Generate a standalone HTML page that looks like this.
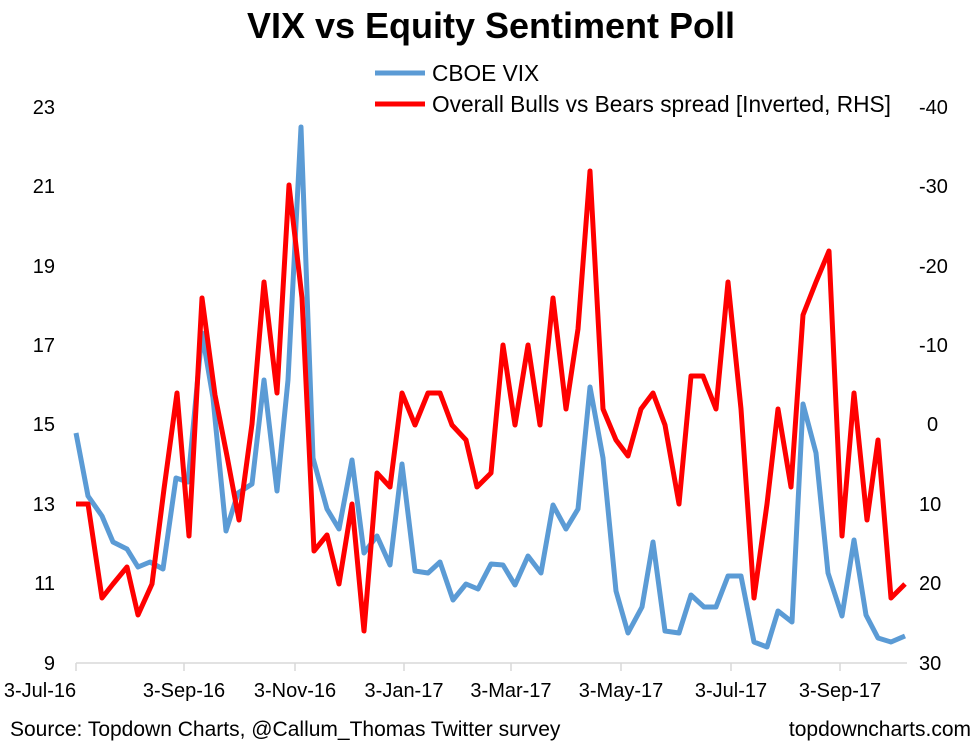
<!DOCTYPE html>
<html><head><meta charset="utf-8"><style>
body{margin:0;background:#fff;}
svg text{font-family:"Liberation Sans",Arial,sans-serif;fill:#000;}
</style></head><body>
<svg width="980" height="748" viewBox="0 0 980 748" xmlns="http://www.w3.org/2000/svg">
<rect width="980" height="748" fill="#fff"/>
<text x="491" y="38" text-anchor="middle" font-size="36" font-weight="bold">VIX vs Equity Sentiment Poll</text>
<line x1="375" y1="73" x2="425" y2="73" stroke="#5B9BD5" stroke-width="5"/>
<text x="432" y="81" font-size="22.7">CBOE VIX</text>
<line x1="375" y1="104" x2="425" y2="104" stroke="#FF0000" stroke-width="5"/>
<text x="432" y="112" font-size="22.7">Overall Bulls vs Bears spread [Inverted, RHS]</text>
<g font-size="20" text-anchor="end">
<text x="55" y="114">23</text><text x="55" y="193">21</text><text x="55" y="273">19</text><text x="55" y="352">17</text><text x="55" y="431">15</text><text x="55" y="511">13</text><text x="55" y="590">11</text><text x="55" y="670">9</text>
</g>
<g font-size="20" text-anchor="start">
<text x="919" y="114">-40</text><text x="919" y="193">-30</text><text x="919" y="273">-20</text><text x="919" y="352">-10</text><text x="927" y="431">0</text><text x="919" y="511">10</text><text x="919" y="590">20</text><text x="919" y="670">30</text>
</g>
<g stroke="#D9D9D9" stroke-width="1.5">
<line x1="76" y1="663" x2="907" y2="663"/>
<line x1="76" y1="663" x2="76" y2="671"/><line x1="184" y1="663" x2="184" y2="671"/><line x1="295" y1="663" x2="295" y2="671"/><line x1="404" y1="663" x2="404" y2="671"/><line x1="511" y1="663" x2="511" y2="671"/><line x1="621" y1="663" x2="621" y2="671"/><line x1="731" y1="663" x2="731" y2="671"/><line x1="840" y1="663" x2="840" y2="671"/>
</g>
<g font-size="20" text-anchor="middle">
<text x="40" y="697">3-Jul-16</text><text x="184" y="697">3-Sep-16</text><text x="295" y="697">3-Nov-16</text><text x="404" y="697">3-Jan-17</text><text x="511" y="697">3-Mar-17</text><text x="621" y="697">3-May-17</text><text x="731" y="697">3-Jul-17</text><text x="840" y="697">3-Sep-17</text>
</g>
<polyline fill="none" stroke="#5B9BD5" stroke-width="5" stroke-linejoin="round" points="76,433 88,496 102,516 113,542 127,549 138,567 150,562 163,569 176,478 188,482 202,333 213,398 226,531 238,493 252,484 264,380 277,491 288,380 301,127 313,458 327,509 339,529 352,460 364,553 377,536 390,565 402,464 415,571 428,573 440,562 453,600 466,584 478,589 491,564 503,565 515,585 528,556 541,573 553,505 566,529 578,509 590,387 603,458 616,591 628,633 642,607 653,542 665,631 679,633 691,595 704,607 716,607 728,576 741,576 754,642 767,647 778,611 792,622 803,404 816,453 828,573 842,616 854,540 866,615 878,638 891,642 905,636"/>
<polyline fill="none" stroke="#FF0000" stroke-width="5" stroke-linejoin="round" points="76,504 88,504 102,598 113,584 127,567 138,615 152,584 164,489 177,393 189,536 202,298 215,395 227,456 239,520 252,424 264,282 277,393 289,185 302,298 314,551 327,535 339,584 352,504 364,631 377,473 390,487 402,393 415,425 428,393 440,393 452,425 466,440 477,487 491,473 503,345 515,425 528,345 540,425 553,298 566,409 578,329 590,171 603,409 616,440 628,456 641,409 653,393 665,425 679,504 691,376 703,376 716,409 728,282 741,409 754,598 767,504 778,409 791,487 803,315 816,282 829,251 842,536 854,393 867,520 878,440 891,598 905,584"/>
<text x="10" y="736" font-size="21">Source: Topdown Charts, @Callum_Thomas Twitter survey</text>
<text x="971" y="736" font-size="21" text-anchor="end">topdowncharts.com</text>
</svg>
</body></html>
